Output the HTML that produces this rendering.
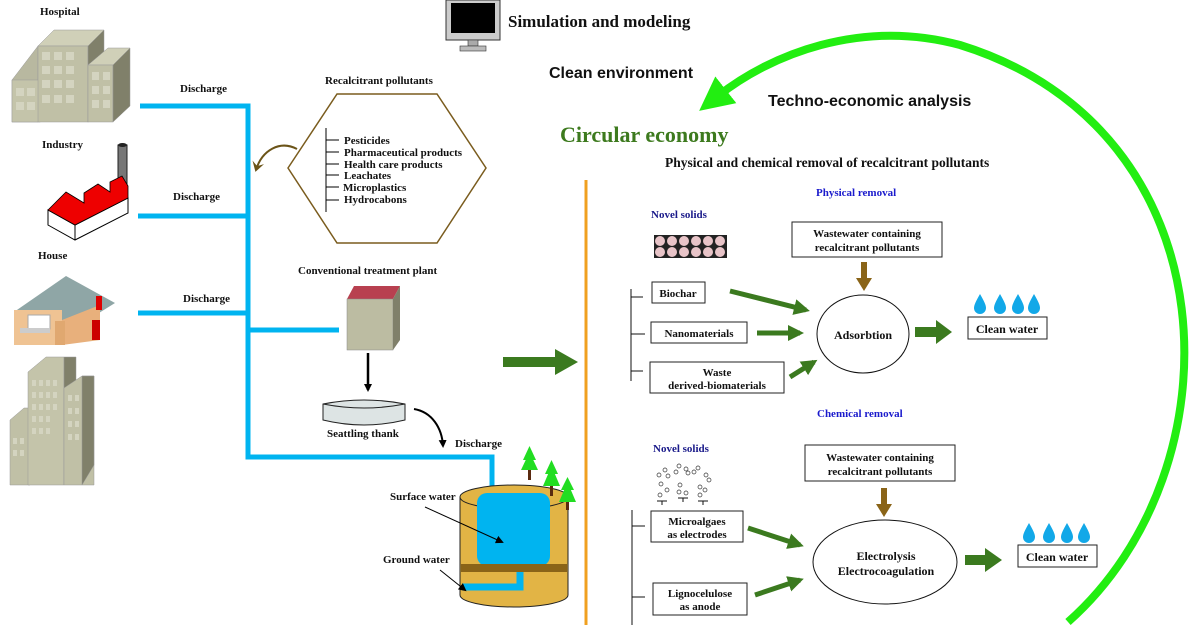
<!DOCTYPE html>
<html><head><meta charset="utf-8"><style>
body{margin:0;background:#fff;width:1200px;height:630px;overflow:hidden}
svg{display:block}
text{font-family:"Liberation Serif",serif;font-weight:bold;font-size:11px;fill:#111}
</style></head><body>
<svg width="1200" height="630" viewBox="0 0 1200 630">
<defs>
<marker id="bk" markerWidth="8" markerHeight="8" refX="6" refY="4" orient="auto" markerUnits="userSpaceOnUse"><path d="M0,0L8,4L0,8z" fill="#000"/></marker>
<marker id="br" markerWidth="12" markerHeight="12" refX="8" refY="6" orient="auto" markerUnits="userSpaceOnUse"><path d="M0,0L10,6L0,12L4,6z" fill="#6b5418"/></marker>
<marker id="gr" markerWidth="16" markerHeight="16" refX="12" refY="8" orient="auto" markerUnits="userSpaceOnUse"><path d="M0,0L16,8L0,16z" fill="#3b7a1f"/></marker>
<marker id="lg" markerWidth="34" markerHeight="34" refX="10" refY="17" orient="auto" markerUnits="userSpaceOnUse"><path d="M0,0L34,17L0,34z" fill="#22ee11"/></marker>
<g id="drop"><path d="M0,-11 C4,-4 6,0 6,3 A6,6 0 0 1 -6,3 C-6,0 -4,-4 0,-11z" fill="#12a8e8"/></g>
</defs>

<rect x="446" y="0" width="54" height="40" fill="#ccc" stroke="#333"/>
<rect x="451" y="3" width="44" height="30" fill="#000"/>
<rect x="468" y="40" width="10" height="6" fill="#aaa" stroke="#333" stroke-width=".6"/>
<rect x="460" y="46" width="26" height="5" fill="#bbb" stroke="#333" stroke-width=".6"/>
<text x="508" y="27" style="font-size:17px">Simulation and modeling</text>
<text x="549" y="78" style="font-family:'Liberation Sans',sans-serif;font-size:16px">Clean environment</text>
<text x="768" y="106" style="font-family:'Liberation Sans',sans-serif;font-size:16px">Techno-economic analysis</text>
<text x="560" y="142" style="font-size:22px;fill:#3d7a1e">Circular economy</text>
<text x="665" y="167" style="font-size:13.5px">Physical and chemical removal of recalcitrant pollutants</text>

<path d="M1068,622 C1240,470 1235,130 960,45 C860,18 770,55 718,96" fill="none" stroke="#22ee11" stroke-width="8" marker-end="url(#lg)"/>

<line x1="586" y1="180" x2="586" y2="625" stroke="#f0a020" stroke-width="3"/>
<path d="M503,357 L555,357 L555,349 L578,362 L555,375 L555,367 L503,367z" fill="#3b7a1f"/>

<text x="40" y="15">Hospital</text>
<text x="42" y="148">Industry</text>
<text x="38" y="259">House</text>
<text x="180" y="92">Discharge</text>
<text x="173" y="200">Discharge</text>
<text x="183" y="302">Discharge</text>
<text x="455" y="447">Discharge</text>

<g stroke="#999" stroke-width=".5">
<polygon points="38,46 12,80 12,122 38,122" fill="#b8b8a0"/>
<rect x="12" y="80" width="28" height="42" fill="#c4c4aa"/>
<polygon points="38,46 54,30 104,30 88,46" fill="#d0d0b8"/>
<rect x="38" y="46" width="50" height="76" fill="#c0c0a6"/>
<polygon points="88,46 104,30 104,110 88,122" fill="#80806a"/>
<polygon points="88,65 108,48 130,48 113,65" fill="#d0d0b8"/>
<rect x="88" y="65" width="25" height="57" fill="#c0c0a6"/>
<polygon points="113,65 130,48 130,106 113,122" fill="#80806a"/>
</g>
<g fill="#d4d4c0"><rect x="42" y="52" width="8" height="8"/><rect x="54" y="52" width="8" height="8"/><rect x="66" y="52" width="8" height="8"/><rect x="42" y="66" width="8" height="8"/><rect x="54" y="66" width="8" height="8"/><rect x="66" y="66" width="8" height="8"/><rect x="42" y="80" width="8" height="8"/><rect x="54" y="80" width="8" height="8"/><rect x="66" y="80" width="8" height="8"/><rect x="42" y="95" width="8" height="8"/><rect x="54" y="95" width="8" height="8"/><rect x="66" y="95" width="8" height="8"/><rect x="16" y="88" width="8" height="8"/><rect x="27" y="88" width="8" height="8"/><rect x="16" y="102" width="8" height="8"/><rect x="27" y="102" width="8" height="8"/><rect x="92" y="72" width="7" height="8"/><rect x="103" y="72" width="7" height="8"/><rect x="92" y="86" width="7" height="8"/><rect x="103" y="86" width="7" height="8"/><rect x="92" y="100" width="7" height="8"/><rect x="103" y="100" width="7" height="8"/></g>

<rect x="118" y="145" width="9" height="45" fill="#777" stroke="#222"/>
<ellipse cx="122.5" cy="145" rx="4.5" ry="2" fill="#222"/>
<polygon points="48,210 75,225 128,198 128,213 75,240 48,225" fill="#fff" stroke="#000"/>
<line x1="75" y1="225" x2="75" y2="240" stroke="#000"/>
<polygon points="48,210 66,192 84,203 84,193 98,184 110,192 110,182 122,176 128,186 128,198 75,225" fill="#e00" stroke="#000" stroke-width=".8"/>

<polygon points="14,312 66,276 115,303 62,336" fill="#8fa6a6"/>
<rect x="14" y="310" width="48" height="35" fill="#efc393"/>
<polygon points="62,320 100,305 100,340 62,345" fill="#e8b07c"/>
<rect x="28" y="315" width="22" height="14" fill="#fff" stroke="#aaa"/>
<rect x="20" y="328" width="30" height="5" fill="#ccc"/>
<rect x="55" y="321" width="10" height="24" fill="#e0a870"/>
<rect x="96" y="296" width="6" height="14" fill="#d00"/>
<rect x="92" y="320" width="8" height="20" fill="#c00"/>

<g stroke="#999" stroke-width=".5">
<polygon points="10,420 24,408 30,408 30,485 10,485" fill="#c0c0a6"/>
<polygon points="28,372 46,357 64,357 64,485 28,485" fill="#c4c4aa"/>
<polygon points="64,357 76,357 76,470 64,485" fill="#80806a"/>
<polygon points="64,388 82,376 94,376 94,485 64,485" fill="#c0c0a6"/>
<polygon points="82,376 94,376 94,465 82,485" fill="#80806a"/>
</g>
<g fill="#d4d4c0"><rect x="32" y="380" width="4" height="6"/><rect x="39" y="380" width="4" height="6"/><rect x="46" y="380" width="4" height="6"/><rect x="53" y="380" width="4" height="6"/><rect x="32" y="392" width="4" height="6"/><rect x="39" y="392" width="4" height="6"/><rect x="46" y="392" width="4" height="6"/><rect x="53" y="392" width="4" height="6"/><rect x="32" y="404" width="4" height="6"/><rect x="39" y="404" width="4" height="6"/><rect x="46" y="404" width="4" height="6"/><rect x="53" y="404" width="4" height="6"/><rect x="32" y="416" width="4" height="6"/><rect x="39" y="416" width="4" height="6"/><rect x="46" y="416" width="4" height="6"/><rect x="32" y="428" width="4" height="6"/><rect x="39" y="428" width="4" height="6"/><rect x="46" y="428" width="4" height="6"/><rect x="13" y="438" width="4" height="6"/><rect x="20" y="438" width="4" height="6"/><rect x="13" y="450" width="4" height="6"/><rect x="20" y="450" width="4" height="6"/><rect x="68" y="395" width="4" height="6"/><rect x="75" y="395" width="4" height="6"/><rect x="68" y="408" width="4" height="6"/><rect x="75" y="408" width="4" height="6"/><rect x="68" y="421" width="4" height="6"/><rect x="75" y="421" width="4" height="6"/><rect x="68" y="434" width="4" height="6"/><rect x="75" y="434" width="4" height="6"/></g>

<g stroke="#00b4f0" stroke-width="5" fill="none">
<polyline points="140,106 248,106 248,457 492,457 492,490"/>
<line x1="138" y1="216" x2="248" y2="216"/>
<line x1="138" y1="313" x2="248" y2="313"/>
<line x1="248" y1="330" x2="339" y2="330"/>
</g>

<text x="325" y="84">Recalcitrant pollutants</text>
<polygon points="288,168 337,94 437,94 486,168 437,243 337,243" fill="#fff" stroke="#7a5c1e" stroke-width="1.5"/>
<line x1="326" y1="128" x2="326" y2="212" stroke="#000"/>
<g stroke="#000"><line x1="326" y1="140" x2="339" y2="140"/><line x1="326" y1="152" x2="339" y2="152"/><line x1="326" y1="164" x2="339" y2="164"/><line x1="326" y1="175" x2="339" y2="175"/><line x1="326" y1="187" x2="339" y2="187"/><line x1="326" y1="200" x2="339" y2="200"/></g>
<text x="344" y="144">Pesticides</text>
<text x="344" y="156">Pharmaceutical products</text>
<text x="344" y="168">Health care products</text>
<text x="344" y="179">Leachates</text>
<text x="343" y="191">Microplastics</text>
<text x="344" y="203">Hydrocabons</text>
<path d="M297,149 C280,140 262,150 256,170" fill="none" stroke="#6b5418" stroke-width="2" marker-end="url(#br)"/>

<text x="298" y="274">Conventional treatment plant</text>
<polygon points="347,299 354,286 400,286 393,299" fill="#b84050"/>
<rect x="347" y="299" width="46" height="51" fill="#bcbca2" stroke="#888" stroke-width=".5"/>
<polygon points="393,299 400,286 400,340 393,350" fill="#80806a"/>
<line x1="368" y1="353" x2="368" y2="390" stroke="#000" stroke-width="2.5" marker-end="url(#bk)"/>
<path d="M323,404 Q364,396 405,404 L405,420 Q364,430 323,420z" fill="#dde4e4" stroke="#222"/>
<path d="M323,404 Q364,412 405,404" fill="none" stroke="#222"/>
<text x="327" y="437">Seattling thank</text>
<path d="M414,409 C432,412 442,428 443,446" fill="none" stroke="#000" stroke-width="2" marker-end="url(#bk)"/>

<path d="M460,497 L460,595 A54,12 0 0 0 568,595 L568,497z" fill="#e2b445" stroke="#222"/>
<ellipse cx="514" cy="497" rx="54" ry="12" fill="#e2b445" stroke="#222"/>
<rect x="477" y="493" width="73" height="73" rx="10" fill="#00b4f0"/>
<rect x="461" y="564" width="106" height="8" fill="#8a6418"/>
<polyline points="520,572 520,587 462,587" fill="none" stroke="#00b4f0" stroke-width="7"/>
<g><rect x="528" y="470" width="3" height="10" fill="#5a2a10"/><polygon points="529.5,452 521,470 538,470" fill="#2d2"/><polygon points="529.5,446 523,460 536,460" fill="#2d2"/>
<rect x="550" y="486" width="3" height="10" fill="#5a2a10"/><polygon points="551.5,466 543,486 560,486" fill="#2d2"/><polygon points="551.5,460 545,474 558,474" fill="#2d2"/>
<rect x="566" y="500" width="3" height="10" fill="#5a2a10"/><polygon points="567.5,482 559,502 576,502" fill="#2d2"/><polygon points="567.5,477 561,490 574,490" fill="#2d2"/></g>
<text x="390" y="500">Surface water</text>
<line x1="425" y1="507" x2="502" y2="542" stroke="#000" marker-end="url(#bk)"/>
<text x="383" y="563">Ground water</text>
<line x1="440" y1="570" x2="465" y2="590" stroke="#000" marker-end="url(#bk)"/>

<text x="816" y="196" style="fill:#1a1acc">Physical removal</text>
<text x="651" y="218" style="fill:#1a1a8a">Novel solids</text>
<rect x="654" y="235" width="73" height="23" fill="#222"/>
<g fill="#e8c4c8">
<circle cx="660" cy="241" r="5"/><circle cx="672" cy="241" r="5"/><circle cx="684" cy="241" r="5"/><circle cx="696" cy="241" r="5"/><circle cx="708" cy="241" r="5"/><circle cx="720" cy="241" r="5"/>
<circle cx="660" cy="252" r="5"/><circle cx="672" cy="252" r="5"/><circle cx="684" cy="252" r="5"/><circle cx="696" cy="252" r="5"/><circle cx="708" cy="252" r="5"/><circle cx="720" cy="252" r="5"/></g>
<rect x="792" y="222" width="150" height="35" fill="#fff" stroke="#222"/>
<text x="867" y="237" text-anchor="middle">Wastewater containing</text>
<text x="867" y="251" text-anchor="middle">recalcitrant pollutants</text>
<line x1="864" y1="262" x2="864" y2="280" stroke="#8a6418" stroke-width="6"/><polygon points="856,278 872,278 864,291" fill="#8a6418"/>
<ellipse cx="863" cy="334" rx="46" ry="39" fill="#fff" stroke="#111"/>
<text x="863" y="339" text-anchor="middle" style="font-size:12px">Adsorbtion</text>
<path d="M631,289 V381 M631,297 H643 M631,334 H645 M631,371 H643" stroke="#111" fill="none"/>
<rect x="652" y="282" width="53" height="21" fill="#fff" stroke="#222"/><text x="678" y="297" text-anchor="middle">Biochar</text>
<rect x="651" y="322" width="96" height="21" fill="#fff" stroke="#222"/><text x="699" y="337" text-anchor="middle">Nanomaterials</text>
<rect x="650" y="362" width="134" height="31" fill="#fff" stroke="#222"/><text x="717" y="376" text-anchor="middle">Waste</text><text x="717" y="389" text-anchor="middle">derived-biomaterials</text>
<g stroke="#3b7a1f" stroke-width="5" marker-end="url(#gr)">
<line x1="730" y1="291" x2="806" y2="310"/><line x1="757" y1="333" x2="800" y2="333"/><line x1="790" y1="377" x2="814" y2="362"/>
<line x1="748" y1="528" x2="800" y2="545"/><line x1="755" y1="595" x2="800" y2="580"/></g>
<path d="M915,327 L936,327 L936,320 L952,332 L936,344 L936,337 L915,337z" fill="#3b7a1f"/>
<use href="#drop" x="980" y="305"/><use href="#drop" x="1000" y="305"/><use href="#drop" x="1018" y="305"/><use href="#drop" x="1034" y="305"/>
<rect x="968" y="317" width="79" height="22" fill="#fff" stroke="#222"/><text x="1007" y="333" text-anchor="middle" style="font-size:12px">Clean water</text>

<text x="817" y="417" style="fill:#1a1acc">Chemical removal</text>
<text x="653" y="452" style="fill:#1a1a8a">Novel solids</text>
<g fill="none" stroke="#333" stroke-width=".7">
<circle cx="659" cy="475" r="2"/><circle cx="665" cy="470" r="2"/><circle cx="668" cy="476" r="2"/><circle cx="676" cy="472" r="2"/><circle cx="679" cy="466" r="2"/><circle cx="686" cy="469" r="2"/><circle cx="688" cy="473" r="2"/><circle cx="694" cy="472" r="2"/><circle cx="698" cy="468" r="2"/><circle cx="706" cy="475" r="2"/><circle cx="709" cy="480" r="2"/><circle cx="661" cy="484" r="2"/><circle cx="667" cy="490" r="2"/><circle cx="680" cy="485" r="2"/><circle cx="686" cy="493" r="2"/><circle cx="700" cy="487" r="2"/><circle cx="705" cy="490" r="2"/><circle cx="660" cy="495" r="2"/><circle cx="679" cy="492" r="2"/><circle cx="700" cy="495" r="2"/></g>
<path d="M657,501 H667 M662,501 V505 M678,498 H688 M683,498 V502 M698,501 H708 M703,501 V505" stroke="#111"/>
<rect x="805" y="445" width="150" height="36" fill="#fff" stroke="#222"/>
<text x="880" y="461" text-anchor="middle">Wastewater containing</text>
<text x="880" y="475" text-anchor="middle">recalcitrant pollutants</text>
<line x1="884" y1="488" x2="884" y2="506" stroke="#8a6418" stroke-width="6"/><polygon points="876,504 892,504 884,517" fill="#8a6418"/>
<ellipse cx="885" cy="562" rx="72" ry="42" fill="#fff" stroke="#111"/>
<text x="886" y="560" text-anchor="middle" style="font-size:12px">Electrolysis</text>
<text x="886" y="575" text-anchor="middle" style="font-size:12px">Electrocoagulation</text>
<path d="M632,510 V625 M632,526 H645 M632,597 H645" stroke="#111" fill="none"/>
<rect x="651" y="511" width="92" height="31" fill="#fff" stroke="#222"/><text x="697" y="525" text-anchor="middle">Microalgaes</text><text x="697" y="538" text-anchor="middle">as electrodes</text>
<rect x="653" y="583" width="94" height="32" fill="#fff" stroke="#222"/><text x="700" y="597" text-anchor="middle">Lignocelulose</text><text x="700" y="610" text-anchor="middle">as anode</text>
<path d="M965,555 L985,555 L985,548 L1002,560 L985,572 L985,565 L965,565z" fill="#3b7a1f"/>
<use href="#drop" x="1029" y="534"/><use href="#drop" x="1049" y="534"/><use href="#drop" x="1067" y="534"/><use href="#drop" x="1084" y="534"/>
<rect x="1018" y="545" width="79" height="22" fill="#fff" stroke="#222"/><text x="1057" y="561" text-anchor="middle" style="font-size:12px">Clean water</text>
</svg>
</body></html>
